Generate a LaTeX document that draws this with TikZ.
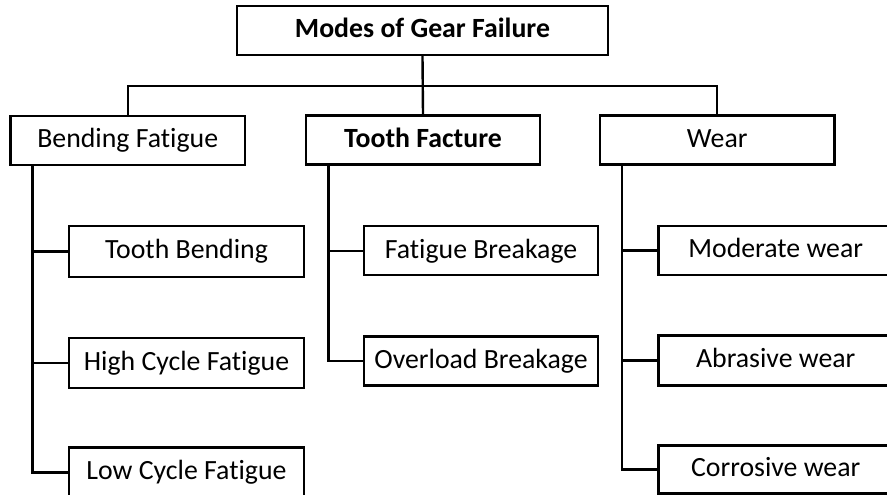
\documentclass[tikz,border=0pt]{standalone}
\usepackage{fontspec}
\setmainfont{Carlito}[RawFeature={-liga;-clig;-dlig}]
\tikzset{
  box/.style={draw=black, line width=2.4pt, fill=white, minimum height=49pt, minimum width=234.5pt, inner sep=0pt, text height=17.9pt, text depth=3pt, font=\fontsize{27.8}{33}\selectfont},
  link/.style={draw=black, line width=2.4pt}
}
\begin{document}
\begin{tikzpicture}[x=1pt,y=-1pt]
\useasboundingbox (0,0) rectangle (887,495);
\clip (0,0) rectangle (887,495);
% top
\node[box, minimum width=371pt] (top) at (422.5,30.5) {\bfseries Modes of Gear Failure};
% level 1
\node[box] (bf) at (127.75,140.25) {Bending Fatigue};
\node[box] (tf) at (423,140) {\bfseries Tooth Facture};
\node[box] (wr) at (717.2,140) {Wear};
% bending children
\node[box, minimum height=51pt, minimum width=235pt] (tb) at (186.5,251.5) {Tooth Bending};
\node[box, minimum height=50pt, minimum width=235pt] (hcf) at (186.5,362.7) {High Cycle Fatigue};
\node[box, minimum height=50pt, minimum width=235pt] (lcf) at (186.5,472.5) {Low Cycle Fatigue};
% tooth facture children
\node[box] (fb) at (481,250.7) {Fatigue Breakage};
\node[box] (ob) at (481,361) {Overload Breakage};
% wear children
\node[box] (mw) at (775.7,250.5) {Moderate wear};
\node[box, minimum height=50pt] (aw) at (775.7,360.3) {Abrasive wear};
\node[box, minimum height=48pt] (cw) at (775.7,469.4) {Corrosive wear};
% connectors
\coordinate (bus) at (422.5,86);
\draw[link] (top.south) -- (tf.north);
\draw[link] (bf.north) -- (bf.north |- bus) -- (wr.north |- bus) -- (wr.north);
\coordinate (bft) at ([xshift=23pt]bf.south west);
\coordinate (tft) at ([xshift=24pt]tf.south west);
\coordinate (wrt) at ([xshift=23.5pt]wr.south west);
\draw[link] (bft) |- (lcf.west);
\draw[link] (bft |- tb.west) -- (tb.west);
\draw[link] (bft |- hcf.west) -- (hcf.west);
\draw[link] (tft) |- (ob.west);
\draw[link] (tft |- fb.west) -- (fb.west);
\draw[link] (wrt) |- (cw.west);
\draw[link] (wrt |- mw.west) -- (mw.west);
\draw[link] (wrt |- aw.west) -- (aw.west);
\end{tikzpicture}
\end{document}
